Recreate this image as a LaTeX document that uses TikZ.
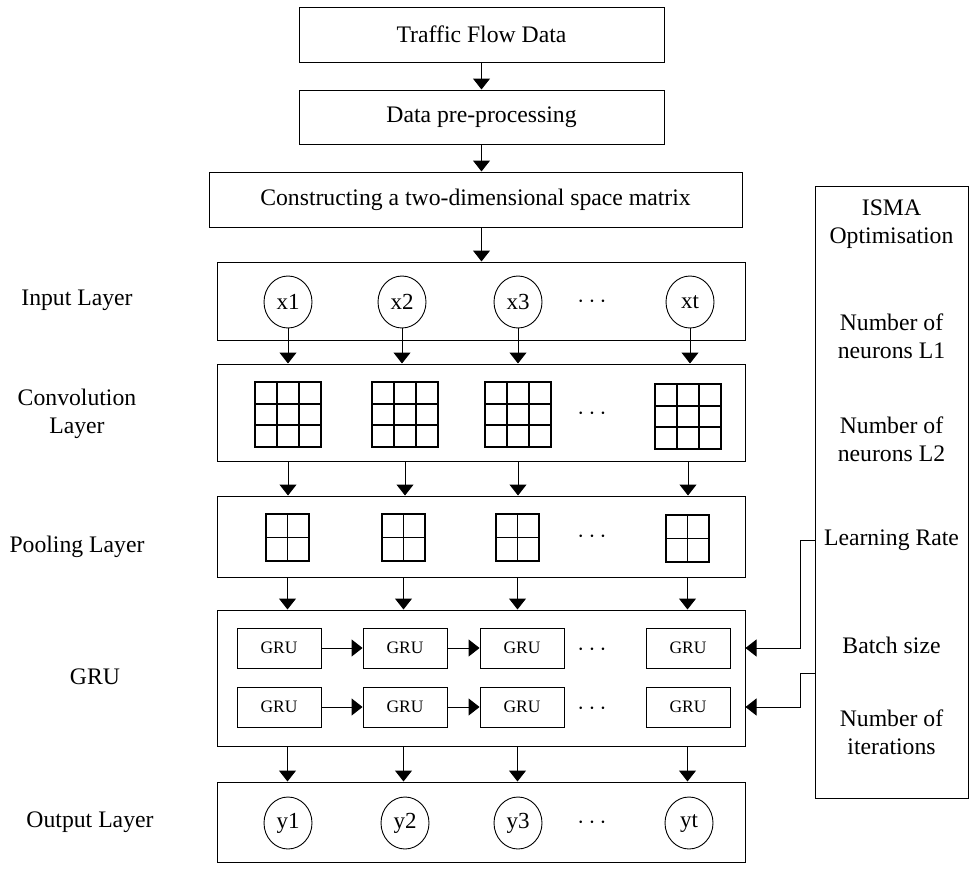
\documentclass[tikz,border=0pt]{standalone}
\usepackage{fontspec}
\setmainfont{Liberation Serif}
\usetikzlibrary{arrows.meta,calc,shapes.geometric}
\begin{document}
\begin{tikzpicture}[x=1pt,y=-1pt,
  txt/.style={font=\fontsize{23.7}{28}\selectfont, align=center, inner sep=0pt},
  box/.style={draw, line width=1pt, inner sep=0pt, font=\fontsize{23.7}{28}\selectfont},
  layer/.style={box, minimum width=528pt},
  unit/.style={draw, ellipse, line width=0.9pt, minimum width=48pt, minimum height=52pt,
    inner sep=0pt, font=\fontsize{23}{28}\selectfont},
  grucell/.style={draw, line width=0.9pt, minimum width=84pt, minimum height=40pt,
    inner sep=0pt, font=\fontsize{17.5}{20}\selectfont},
  arr/.style={-{Triangle[width=17pt,length=11pt]}, line width=1pt},
  gridthree/.style={draw, line width=1.8pt, minimum width=66pt, minimum height=65pt,
    inner sep=0pt, path picture={
      \foreach \f in {0.3333,0.6667}{
        \draw[line width=1.8pt]
          ($(path picture bounding box.north west)!\f!(path picture bounding box.north east)$) --
          ($(path picture bounding box.south west)!\f!(path picture bounding box.south east)$);
        \draw[line width=1.8pt]
          ($(path picture bounding box.north west)!\f!(path picture bounding box.south west)$) --
          ($(path picture bounding box.north east)!\f!(path picture bounding box.south east)$);
      }}},
  gridtwo/.style={draw, line width=1.8pt, minimum width=43pt, minimum height=47pt,
    inner sep=0pt, path picture={
        \draw[line width=1.8pt]
          (path picture bounding box.north) -- (path picture bounding box.south);
        \draw[line width=1.8pt]
          (path picture bounding box.west) -- (path picture bounding box.east);
      }},
  dotsnode/.style={inner sep=0pt, font=\fontsize{23}{28}\selectfont}
]
\useasboundingbox (0,0) rectangle (971,870);

% ---- preprocessing chain ----
\node[box, minimum width=365pt, minimum height=55pt] (traffic) at (481.5,34.5) {Traffic Flow Data};
\node[box, minimum width=365pt, minimum height=54pt] (prep) at (481.5,117) {Data pre-processing};
\node[box, minimum width=533pt, minimum height=55pt] (matrix) at (475.5,199.5) {Constructing a two-dimensional space matrix};

% ---- network layers ----
\node[layer, minimum height=78pt] (inputL) at (481,301) {};
\node[layer, minimum height=97pt] (conv) at (481,412.5) {};
\node[layer, minimum height=81pt] (pool) at (481,536.5) {};
\node[layer, minimum height=136pt] (gru) at (481,678) {};
\node[layer, minimum height=80pt] (output) at (481,822) {};

% ---- optimisation panel ----
\node[box, minimum width=153pt, minimum height=612pt] (isma) at (891.5,492) {};
\node[txt] (t1) at (891.5,224) {ISMA\\Optimisation};
\node[txt] (t2) at (891.5,336) {Number of\\neurons L1};
\node[txt] (t3) at (891.5,439) {Number of\\neurons L2};
\node[txt] (t4) at (891.5,540) {Learning Rate};
\node[txt] (t5) at (891.5,645) {Batch size};
\node[txt] (t6) at (891.5,732.5) {Number of\\iterations};

% ---- layer labels ----
\node[txt] (l1) at (77,300) {Input Layer};
\node[txt] (l2) at (77,414) {Convolution\\Layer};
\node[txt] (l3) at (77,547) {Pooling Layer};
\node[txt] (l4) at (95,677) {GRU};
\node[txt] (l5) at (90,822) {Output Layer};

% ---- input units ----
\node[unit] (x1) at (288,302) {x1};
\node[unit] (x2) at (402,302) {x2};
\node[unit] (x3) at (518,302) {x3};
\node[unit] (x4) at (690,302) {xt};
\node[dotsnode] (d1) at (592,302) {$\cdots$};

% ---- convolution kernels ----
\node[gridthree] (c1) at (288,414.5) {};
\node[gridthree] (c2) at (405,414.5) {};
\node[gridthree] (c3) at (518,414.5) {};
\node[gridthree] (c4) at (688,416.5) {};
\node[dotsnode] (d2) at (592,414) {$\cdots$};

% ---- pooling kernels ----
\node[gridtwo] (p1) at (287.5,537.5) {};
\node[gridtwo] (p2) at (403.5,537.5) {};
\node[gridtwo] (p3) at (517.5,537.5) {};
\node[gridtwo] (p4) at (687.5,538.5) {};
\node[dotsnode] (d3) at (592,537) {$\cdots$};

% ---- GRU cells ----
\node[grucell] (g11) at (279,648) {GRU};
\node[grucell] (g12) at (405,648) {GRU};
\node[grucell] (g13) at (522,648) {GRU};
\node[grucell] (g14) at (688,648) {GRU};
\node[dotsnode] (d4) at (592,650) {$\cdots$};
\node[grucell] (g21) at (279,707) {GRU};
\node[grucell] (g22) at (405,707) {GRU};
\node[grucell] (g23) at (522,707) {GRU};
\node[grucell] (g24) at (688,707) {GRU};
\node[dotsnode] (d5) at (592,709) {$\cdots$};

% ---- output units ----
\node[unit] (y1) at (288,823) {y1};
\node[unit] (y2) at (405,823) {y2};
\node[unit] (y3) at (518,823) {y3};
\node[unit] (y4) at (689,823) {yt};
\node[dotsnode] (d6) at (592,823) {$\cdots$};

% ---- connectors ----
\draw[arr] (traffic.south) -- (prep.north);
\draw[arr] (prep.south) -- (prep.south |- matrix.north);
\draw[arr] (prep.south |- matrix.south) -- (prep.south |- inputL.north);

\foreach \i in {1,2,3,4}{
  \draw[arr] (x\i.south) -- (x\i.south |- conv.north);
  \draw[arr] (c\i.south |- conv.south) -- (c\i.south |- pool.north);
  \draw[arr] (p\i.south |- pool.south) -- (p\i.south |- gru.north);
  \draw[arr] (p\i.south |- gru.south) -- (p\i.south |- output.north);
}

\draw[arr] (g11.east) -- (g12.west);
\draw[arr] (g12.east) -- (g13.west);
\draw[arr] (g21.east) -- (g22.west);
\draw[arr] (g22.east) -- (g23.west);

\coordinate (k1) at (800,540);
\coordinate (k2) at (800,673);
\draw[arr] (isma.west |- k1) -- (k1) -- (k1 |- g14) -- (gru.east |- g14);
\draw[arr] (isma.west |- k2) -- (k2) -- (k2 |- g24) -- (gru.east |- g24);
\end{tikzpicture}
\end{document}
